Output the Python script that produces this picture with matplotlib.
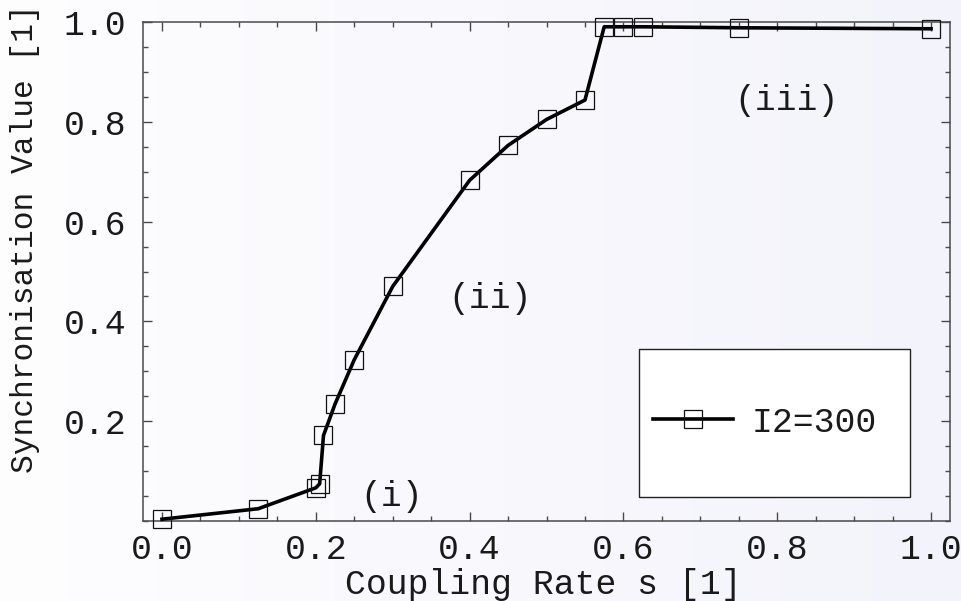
import numpy as np
import matplotlib
matplotlib.use("Agg")
import matplotlib.pyplot as plt
from matplotlib.patches import Rectangle
from matplotlib.ticker import MultipleLocator, FixedLocator

# Synchronisation measurements for I2 = 300
coupling_rate = [0.0, 0.125, 0.2, 0.205, 0.21, 0.225, 0.25, 0.30, 0.40, 0.45,
                 0.50, 0.55, 0.575, 0.60, 0.625, 0.75, 1.0]
sync_value = [0.003, 0.024, 0.066, 0.074, 0.171, 0.234, 0.323, 0.470, 0.683, 0.753,
              0.805, 0.844, 0.991, 0.991, 0.991, 0.989, 0.987]
series_label = "I2=300"

x_ticks = [0.0, 0.2, 0.4, 0.6, 0.8, 1.0]
y_ticks = [0.2, 0.4, 0.6, 0.8, 1.0]
region_labels = ["(i)", "(ii)", "(iii)"]
region_pos = [(0.299, 0.048), (0.4265, 0.446), (0.812, 0.844)]

plt.rcParams["font.family"] = ["Liberation Mono", "DejaVu Sans Mono"]
text_color = "#1a1a1a"
axis_color = "#4a4a4a"

fig = plt.figure(figsize=(9.61, 6.01), dpi=100)
fig.patch.set_facecolor("#f5f5fc")

# soft horizontal background shade
bg = fig.add_axes([0, 0, 1, 1], zorder=-10)
grad = np.linspace(0, 1, 256)[None, :]
c0 = np.array([0.995, 0.995, 1.0])
c1 = np.array([0.953, 0.953, 0.985])
img = c0[None, None, :] * (1 - grad[..., None]) + c1[None, None, :] * grad[..., None]
bg.imshow(img, aspect="auto", extent=[0, 1, 0, 1])
bg.axis("off")

ax = fig.add_axes([0.1488, 0.1336, 0.8398, 0.8293])
ax.set_facecolor("none")

ax.plot(coupling_rate, sync_value, color="black", lw=2.6, marker="s",
        markersize=12.5, markerfacecolor="none", markeredgecolor="#111111",
        markeredgewidth=0.9, label=series_label, clip_on=False, zorder=3)

ax.set_xlim(-0.0247, 1.0247)
ax.set_ylim(0.0, 1.0)

ax.xaxis.set_major_locator(FixedLocator(x_ticks))
ax.xaxis.set_minor_locator(MultipleLocator(0.05))
ax.yaxis.set_major_locator(FixedLocator(y_ticks))
ax.yaxis.set_minor_locator(MultipleLocator(0.05))
ax.set_xticklabels([f"{v:.1f}" for v in x_ticks])
ax.set_yticklabels([f"{v:.1f}" for v in y_ticks])

ax.tick_params(which="both", direction="in", top=True, right=True,
               color=axis_color, width=1.0, labelsize=25, labelcolor=text_color)
ax.tick_params(which="major", length=6.5)
ax.tick_params(which="minor", length=3.4)
ax.tick_params(axis="x", which="major", pad=9)
ax.tick_params(axis="y", which="major", pad=12)

for sp in ax.spines.values():
    sp.set_color(axis_color)
    sp.set_linewidth(1.1)

ax.set_xlabel("Coupling Rate s [1]", fontsize=25, color=text_color)
ax.set_ylabel("Synchronisation Value [1]", fontsize=22.5, color=text_color)
ax.xaxis.set_label_coords(0.496, -0.095)
ax.yaxis.set_label_coords(-0.128, 0.566)

for txt, (tx, ty) in zip(region_labels, region_pos):
    ax.text(tx, ty, txt, fontsize=25, color=text_color, ha="center", va="center")

# legend box with generous padding
ax.add_patch(Rectangle((0.6197, 0.048), 0.3524, 0.297, transform=ax.transData,
                       facecolor="white", edgecolor="#222222", lw=1.0, zorder=4))
ax.legend(loc="center left", bbox_to_anchor=(0.632, 0.198), frameon=False,
          fontsize=25, handlelength=2.3, handletextpad=0.55, borderpad=0,
          borderaxespad=0, labelcolor=text_color).set_zorder(5)

fig.savefig("out.png", dpi=100, facecolor=fig.get_facecolor())
